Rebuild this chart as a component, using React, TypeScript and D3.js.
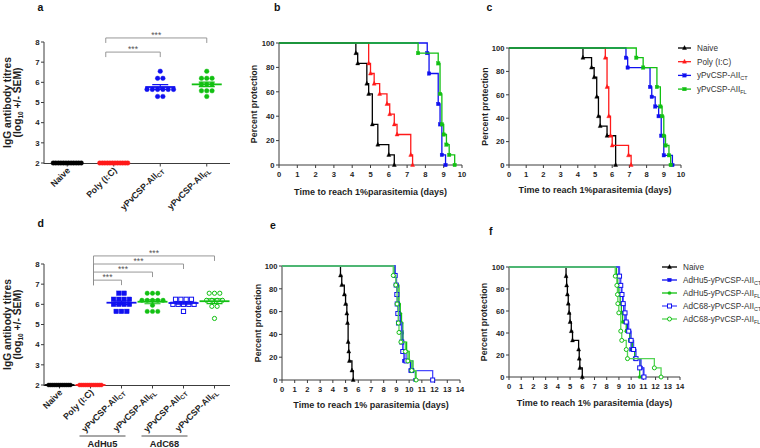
import React from "react";
import * as d3 from "d3";

const FONT = "'Liberation Sans', Arial, Helvetica, sans-serif";
const BLACK = "#000000";
const RED = "#ff1a1a";
const BLUE = "#1010f0";
const GREEN = "#12c012";
const AXIS = "#3c3c3c";
const TXT = "#1e1e1e";
const GRAY = "#8c8c8c";

// ---------- Panel a : IgG titres ----------
const aLabels: [string, string][] = [["Naive", ""], ["Poly (I:C)", ""], ["yPvCSP-AII", "CT"], ["yPvCSP-AII", "FL"]];
const aNaive = [2, 2, 2, 2, 2, 2, 2, 2, 2, 2, 2, 2];
const aPoly = [2, 2, 2, 2, 2, 2, 2, 2, 2, 2, 2, 2];
const aCT = [6.55, 6.2, 6.2, 5.65, 5.65, 5.65, 5.65, 5.65, 5.65, 5.3, 5.3];
const aFL = [6.55, 6.2, 6.2, 6.2, 5.9, 5.9, 5.9, 5.58, 5.58, 5.58, 5.3];
const aBrackets = [{ to: 3, y: 8.2 }, { to: 2, y: 7.5 }];

// ---------- Panel d : IgG titres ----------
const dLabels: [string, string][] = [["Naive", ""], ["Poly (I:C)", ""], ["yPvCSP-AII", "CT"], ["yPvCSP-AII", "FL"], ["yPvCSP-AII", "CT"], ["yPvCSP-AII", "FL"]];
const dNaive = [2, 2, 2, 2, 2, 2, 2, 2, 2, 2, 2, 2];
const dPoly = [2, 2, 2, 2, 2, 2, 2, 2, 2, 2, 2, 2];
const dHu5CT = [6.55, 6.55, 6.25, 6.25, 6.25, 6.25, 6.0, 6.0, 6.0, 6.0, 5.65, 5.65, 5.65];
const dHu5FL = [6.55, 6.55, 6.55, 6.2, 6.2, 6.2, 6.2, 6.2, 5.95, 5.65, 5.65, 5.65];
const dC68CT = [6.25, 6.25, 6.25, 6.25, 6.0, 6.0, 6.0, 6.0, 6.0, 5.65];
const dC68FL = [6.55, 6.55, 6.55, 6.2, 6.2, 6.2, 6.2, 5.9, 5.9, 5.3];
const dBrackets = [{ to: 2, y: 7.2 }, { to: 3, y: 7.6 }, { to: 4, y: 8.0 }, { to: 5, y: 8.4 }];
const dVectorGroups = [{ name: "AdHu5", from: 2, to: 3 }, { name: "AdC68", from: 4, to: 5 }];

const yTicksTitre = [2, 3, 4, 5, 6, 7, 8];

// ---------- Panel b : survival ----------
const bNaiveT = [4.2, 4.3, 4.8, 4.9, 5.1, 5.4, 6.0, 6.3];
const bNaiveS = [91.7, 83.3, 66.7, 58.3, 33.3, 16.7, 8.3, 0];
const bPolyT = [4.9, 5.0, 5.2, 5.5, 5.9, 6.05, 6.3, 6.45, 7.2, 7.3];
const bPolyS = [83.3, 75, 66.7, 58.3, 50, 41.7, 33.3, 25, 8.3, 0];
const bCTT = [8.1, 8.2, 8.7, 8.8, 8.9, 9.1];
const bCTS = [91.7, 75, 50, 33.3, 8.3, 0];
const bFLT = [7.6, 8.7, 8.8, 8.9, 9.0, 9.15, 9.3, 9.6];
const bFLS = [91.7, 83.3, 58.3, 33.3, 25, 16.7, 8.3, 0];

// ---------- Panel c : survival ----------
const cNaiveT = [4.3, 4.8, 4.95, 5.1, 5.2, 5.3, 5.7, 6.2];
const cNaiveS = [91.7, 83.3, 75, 58.3, 41.7, 33.3, 25, 0];
const cPolyT = [5.6, 5.7, 5.8, 5.9, 6.0, 6.95, 7.1];
const cPolyS = [91.7, 66.7, 41.7, 25, 16.7, 8.3, 0];
const cCTT = [6.8, 6.9, 8.2, 8.3, 8.5, 8.7, 8.85, 9.0, 9.5];
const cCTS = [91.7, 83.3, 66.7, 58.3, 50, 41.7, 25, 8.3, 0];
const cFLT = [7.4, 7.8, 8.6, 8.8, 8.9, 9.0, 9.1, 9.3, 9.4];
const cFLS = [91.7, 83.3, 66.7, 50, 41.7, 25, 16.7, 8.3, 0];

// ---------- Panel e : survival ----------
const eNaiveT = [4.6, 4.7, 4.9, 5.0, 5.1, 5.15, 5.2, 5.25, 5.3, 5.5, 5.6];
const eNaiveS = [91.7, 83.3, 75, 66.7, 58.3, 50, 33.3, 25, 16.7, 8.3, 0];
const eHu5CTT = [8.9, 9.0, 9.05, 9.1, 9.2, 9.3, 9.4, 9.5, 9.6, 10.1, 10.5];
const eHu5CTS = [91.7, 83.3, 75, 66.7, 58.3, 50, 41.7, 25, 16.7, 8.3, 0];
const eHu5FLT = [8.85, 9.0, 9.2, 9.3, 9.4, 9.5, 9.8, 10.0, 10.3, 10.5];
const eHu5FLS = [91.7, 83.3, 66.7, 58.3, 50, 33.3, 25, 16.7, 8.3, 0];
const eC68CTT = [8.9, 8.98, 9.03, 9.06, 9.11, 9.16, 9.42, 9.5, 9.76, 10.2, 11.85];
const eC68CTS = [91.7, 83.3, 75, 66.7, 58.3, 50, 33.3, 25, 16.7, 8.3, 0];
const eC68FLT = [8.75, 8.95, 9.05, 9.15, 9.2, 9.35, 9.7, 9.9, 10.2, 10.55];
const eC68FLS = [91.7, 83.3, 66.7, 50, 41.7, 33.3, 25, 16.7, 8.3, 0];

// ---------- Panel f : survival ----------
const fNaiveT = [4.67, 4.72, 4.78, 4.85, 4.92, 5.0, 5.1, 5.2, 5.7, 5.75, 5.8, 6.0];
const fNaiveS = [91.7, 83.3, 75, 66.7, 58.3, 50, 41.7, 33.3, 25, 16.7, 8.3, 0];
const fHu5CTT = [9.0, 9.1, 9.2, 9.3, 9.4, 9.5, 9.7, 9.9, 10.0, 10.3, 10.8, 11.0];
const fHu5CTS = [91.7, 83.3, 75, 66.7, 58.3, 50, 41.7, 33.3, 25, 16.7, 8.3, 0];
const fHu5FLT = [8.8, 8.9, 9.0, 9.1, 9.2, 9.3, 9.6, 9.9, 10.1, 10.3, 10.7];
const fHu5FLS = [91.7, 83.3, 75, 66.7, 58.3, 50, 41.7, 33.3, 25, 16.7, 0];
const fC68CTT = [9.05, 9.15, 9.25, 9.35, 9.5, 9.6, 9.8, 10.0, 10.2, 10.4, 10.7, 11.05];
const fC68CTS = [91.7, 83.3, 75, 66.7, 58.3, 50, 41.7, 33.3, 25, 16.7, 8.3, 0];
const fC68FLT = [8.7, 8.83, 8.88, 8.91, 8.99, 9.15, 9.23, 9.6, 9.7, 11.9, 12.45];
const fC68FLS = [91.7, 83.3, 75, 66.7, 58.3, 41.7, 33.3, 25, 16.7, 8.3, 0];

const pctTicks = [0, 20, 40, 60, 80, 100];
const dayTicks10 = d3.range(0, 11);
const dayTicks14 = d3.range(0, 15);

type Shape = "tri" | "sq" | "circ";

function Marker({ x, y, shape, color, open, size }: { x: number; y: number; shape: Shape; color: string; open?: boolean; size: number }) {
  const fill = open ? "#ffffff" : color;
  const sw = open ? 1 : 0.4;
  if (shape === "tri") {
    const s = size;
    const pts = `${x},${y - s * 0.62} ${x - s / 2},${y + s * 0.38} ${x + s / 2},${y + s * 0.38}`;
    return <polygon points={pts} fill={fill} stroke={color} strokeWidth={sw} />;
  }
  if (shape === "sq") {
    return <rect x={x - size / 2} y={y - size / 2} width={size} height={size} fill={fill} stroke={color} strokeWidth={sw} />;
  }
  return <circle cx={x} cy={y} r={size / 2} fill={fill} stroke={color} strokeWidth={sw} />;
}

function SubText({ main, sub, subSize }: { main: string; sub: string; subSize: number }) {
  return (
    <>
      {main}
      {sub ? <tspan dy={2} fontSize={subSize}>{sub}</tspan> : null}
    </>
  );
}

type SGroup = { values: number[]; color: string; shape: Shape; open?: boolean; size: number };

function TitrePanel(props: {
  x0: number; x1: number; yTop: number; yBot: number; groups: SGroup[]; labels: [string, string][];
  brackets: { to: number; y: number }[]; bracketLeftDx: number; sharedLeft: boolean; rowMax: number; spacing: number;
  vectorGroups?: { name: string; from: number; to: number }[];
}) {
  const { x0, x1, yTop, yBot, groups, labels, brackets, bracketLeftDx, sharedLeft, rowMax, spacing } = props;
  const y = d3.scaleLinear().domain([2, 8]).range([yBot, yTop]);
  const x = d3.scaleBand<number>().domain(d3.range(groups.length)).range([x0, x1]);
  const cx = (i: number) => (x(i) as number) + x.bandwidth() / 2;
  const leftX = cx(1) + bracketLeftDx;
  const lowestBracket = d3.max(brackets, (b) => y(b.y)) as number;
  return (
    <g fontFamily={FONT}>
      {/* y label */}
      <text transform={`translate(10.5,${(yTop + yBot) / 2}) rotate(-90)`} textAnchor="middle" fontSize={10.3} fontWeight="bold" fill={TXT}>IgG antibody titres</text>
      <text transform={`translate(21,${(yTop + yBot) / 2}) rotate(-90)`} textAnchor="middle" fontSize={10.3} fontWeight="bold" fill={TXT}>
        (log<tspan dy={2} fontSize={6.5}>10</tspan><tspan dy={-2}> +/- SEM)</tspan>
      </text>
      {/* axes */}
      <line x1={x0} x2={x0} y1={yTop} y2={yBot} stroke={AXIS} strokeWidth={1} />
      <line x1={x0 - 0.5} x2={x1} y1={yBot + 0.5} y2={yBot + 0.5} stroke={AXIS} strokeWidth={1} />
      {yTicksTitre.map((t) => (
        <g key={t}>
          <line x1={x0 - 3} x2={x0} y1={y(t)} y2={y(t)} stroke={AXIS} />
          <text x={x0 - 4.5} y={y(t) + 2.8} textAnchor="end" fontSize={7.8} fontWeight="bold" fill={TXT}>{t}</text>
        </g>
      ))}
      {groups.map((g, i) => (
        <line key={i} x1={cx(i)} x2={cx(i)} y1={yBot + 0.5} y2={yBot + 3.5} stroke={AXIS} />
      ))}
      {labels.map((l, i) => (
        <text key={i} transform={`translate(${cx(i) + 3.5},${yBot + 8}) rotate(-45)`} textAnchor="end" fontSize={8.8} fontWeight="bold" fill={TXT}>
          <SubText main={l[0]} sub={l[1]} subSize={6.2} />
        </text>
      ))}
      {/* brackets */}
      {brackets.map((b, k) => {
        const by = y(b.y);
        const rx = cx(b.to);
        const lb = sharedLeft ? lowestBracket + 5 : by + 5;
        return (
          <g key={k} stroke={GRAY} strokeWidth={0.9} fill="none">
            <path d={`M${leftX},${lb} V${by} H${rx} V${by + 5}`} />
            <text x={(leftX + rx) / 2} y={by} textAnchor="middle" fontSize={8.5} fill="#555" stroke="none">***</text>
          </g>
        );
      })}
      {/* points */}
      {groups.map((g, i) => {
        const rows = d3.group(g.values, (v) => v);
        const pts: { px: number; py: number }[] = [];
        rows.forEach((vals, v) => {
          const k = vals.length;
          const sp = k > 1 ? Math.min(spacing, rowMax / (k - 1)) : 0;
          vals.forEach((_, j) => pts.push({ px: cx(i) + (j - (k - 1) / 2) * sp, py: y(v) }));
        });
        const m = d3.mean(g.values) as number;
        const sem = (d3.deviation(g.values) || 0) / Math.sqrt(g.values.length);
        return (
          <g key={i}>
            {pts.map((p, j) => (
              <Marker key={j} x={p.px} y={p.py} shape={g.shape} color={g.color} open={g.open} size={g.size} />
            ))}
            <line x1={cx(i) - 15} x2={cx(i) + 15} y1={y(m)} y2={y(m)} stroke={g.color} strokeWidth={1.8} />
            <path d={`M${cx(i) - 8},${y(m + sem)} H${cx(i) + 8} M${cx(i)},${y(m + sem)} V${y(m - sem)} M${cx(i) - 8},${y(m - sem)} H${cx(i) + 8}`} stroke={g.color} strokeWidth={1.1} fill="none" />
          </g>
        );
      })}
      {props.vectorGroups
        ? props.vectorGroups.map((vg, k) => {
            const lx1 = cx(vg.from) - 42;
            const lx2 = cx(vg.to) - 27;
            return (
              <g key={k}>
                <line x1={lx1} x2={lx2} y1={436} y2={436} stroke={AXIS} strokeWidth={0.9} />
                <text x={(lx1 + lx2) / 2} y={446.5} textAnchor="middle" fontSize={9.3} fontWeight="bold" fill={TXT}>{vg.name}</text>
              </g>
            );
          })
        : null}
    </g>
  );
}

type Curve = { t: number[]; s: number[]; color: string; lineColor?: string; shape: Shape; open?: boolean; size: number; name: [string, string] };

function SurvivalPanel(props: {
  x0: number; x1: number; yTop: number; yBot: number; xMax: number; xTicks: number[]; curves: Curve[];
  ylabX: number; titleY: number; title: string; legend?: { lx: number; ly: number; dy: number; len: number };
}) {
  const { x0, x1, yTop, yBot, xMax, xTicks, curves, ylabX, titleY, legend, title } = props;
  const x = d3.scaleLinear().domain([0, xMax]).range([x0, x1]);
  const y = d3.scaleLinear().domain([0, 100]).range([yBot, yTop]);
  const line = d3.line<[number, number]>().x((d) => x(d[0])).y((d) => y(d[1])).curve(d3.curveStepAfter);
  return (
    <g fontFamily={FONT}>
      <text transform={`translate(${ylabX},${(yTop + yBot) / 2}) rotate(-90)`} textAnchor="middle" fontSize={8.9} fontWeight="bold" fill={TXT}>Percent protection</text>
      <text x={(x0 + x1) / 2} y={titleY} textAnchor="middle" fontSize={9} fontWeight="bold" fill={TXT}>{title}</text>
      <line x1={x0} x2={x0} y1={yTop} y2={yBot} stroke={AXIS} />
      <line x1={x0} x2={x1} y1={yBot} y2={yBot} stroke={AXIS} />
      {pctTicks.map((t) => (
        <g key={t}>
          <line x1={x0 - 3} x2={x0} y1={y(t)} y2={y(t)} stroke={AXIS} />
          <text x={x0 - 4.5} y={y(t) + 2.8} textAnchor="end" fontSize={7.6} fontWeight="bold" fill={TXT}>{t}</text>
        </g>
      ))}
      {xTicks.map((t) => (
        <g key={t}>
          <line x1={x(t)} x2={x(t)} y1={yBot} y2={yBot + 3} stroke={AXIS} />
          <text x={x(t)} y={yBot + 11.5} textAnchor="middle" fontSize={7.6} fontWeight="bold" fill={TXT}>{t}</text>
        </g>
      ))}
      {curves.map((c, i) => {
        const pts: [number, number][] = [[0, 100], ...c.t.map((t, j) => [t, c.s[j]] as [number, number])];
        return (
          <g key={i}>
            <path d={line(pts) as string} fill="none" stroke={c.lineColor || c.color} strokeWidth={1.3} />
            {c.t.map((t, j) => (
              <Marker key={j} x={x(t)} y={y(c.s[j])} shape={c.shape} color={c.color} open={c.open} size={c.size} />
            ))}
          </g>
        );
      })}
      {legend
        ? curves.map((c, i) => {
            const ly = legend.ly + i * legend.dy;
            return (
              <g key={"l" + i}>
                <line x1={legend.lx} x2={legend.lx + legend.len} y1={ly} y2={ly} stroke={c.lineColor || c.color} strokeWidth={1.3} />
                <Marker x={legend.lx + legend.len / 2} y={ly} shape={c.shape} color={c.color} open={c.open} size={c.size} />
                <text x={legend.lx + legend.len + 6} y={ly + 3} fontSize={8.2} fill="#333">
                  <SubText main={c.name[0]} sub={c.name[1]} subSize={5.5} />
                </text>
              </g>
            );
          })
        : null}
    </g>
  );
}

export default function App() {
  const aGroups: SGroup[] = [
    { values: aNaive, color: BLACK, shape: "circ", size: 4.6 },
    { values: aPoly, color: RED, shape: "circ", size: 4.6 },
    { values: aCT, color: BLUE, shape: "circ", size: 4.6 },
    { values: aFL, color: GREEN, shape: "circ", size: 4.6 },
  ];
  const dGroups: SGroup[] = [
    { values: dNaive, color: BLACK, shape: "circ", size: 4 },
    { values: dPoly, color: RED, shape: "circ", size: 4 },
    { values: dHu5CT, color: BLUE, shape: "sq", size: 4.6 },
    { values: dHu5FL, color: GREEN, shape: "circ", size: 4.4 },
    { values: dC68CT, color: BLUE, shape: "sq", open: true, size: 4.2 },
    { values: dC68FL, color: GREEN, shape: "circ", open: true, size: 4.2 },
  ];
  const bCurves: Curve[] = [
    { t: bNaiveT, s: bNaiveS, color: BLACK, shape: "tri", size: 4, name: ["Naive", ""] },
    { t: bPolyT, s: bPolyS, color: RED, shape: "tri", size: 4, name: ["Poly (I:C)", ""] },
    { t: bCTT, s: bCTS, color: BLUE, shape: "sq", size: 3.4, name: ["yPvCSP-AII", "CT"] },
    { t: bFLT, s: bFLS, color: GREEN, shape: "sq", size: 3.4, name: ["yPvCSP-AII", "FL"] },
  ];
  const cCurves: Curve[] = [
    { t: cNaiveT, s: cNaiveS, color: BLACK, shape: "tri", size: 4, name: ["Naive", ""] },
    { t: cPolyT, s: cPolyS, color: RED, shape: "tri", size: 4, name: ["Poly (I:C)", ""] },
    { t: cCTT, s: cCTS, color: BLUE, shape: "sq", size: 3.4, name: ["yPvCSP-AII", "CT"] },
    { t: cFLT, s: cFLS, color: GREEN, shape: "sq", size: 3.4, name: ["yPvCSP-AII", "FL"] },
  ];
  const eCurves: Curve[] = [
    { t: eNaiveT, s: eNaiveS, color: BLACK, shape: "tri", size: 4, name: ["Naive", ""] },
    { t: eHu5CTT, s: eHu5CTS, color: BLUE, shape: "sq", size: 3.4, name: ["AdHu5-yPvCSP-AII", "CT"] },
    { t: eHu5FLT, s: eHu5FLS, color: GREEN, shape: "circ", size: 3.2, name: ["AdHu5-yPvCSP-AII", "FL"] },
    { t: eC68CTT, s: eC68CTS, color: BLUE, lineColor: "#4a4aff", shape: "sq", open: true, size: 4, name: ["AdC68-yPvCSP-AII", "CT"] },
    { t: eC68FLT, s: eC68FLS, color: GREEN, lineColor: "#55d455", shape: "circ", open: true, size: 4, name: ["AdC68-yPvCSP-AII", "FL"] },
  ];
  const fCurves: Curve[] = [
    { t: fNaiveT, s: fNaiveS, color: BLACK, shape: "tri", size: 4, name: ["Naive", ""] },
    { t: fHu5CTT, s: fHu5CTS, color: BLUE, shape: "sq", size: 3.4, name: ["AdHu5-yPvCSP-AII", "CT"] },
    { t: fHu5FLT, s: fHu5FLS, color: GREEN, shape: "circ", size: 3.2, name: ["AdHu5-yPvCSP-AII", "FL"] },
    { t: fC68CTT, s: fC68CTS, color: BLUE, lineColor: "#4a4aff", shape: "sq", open: true, size: 4, name: ["AdC68-yPvCSP-AII", "CT"] },
    { t: fC68FLT, s: fC68FLS, color: GREEN, lineColor: "#55d455", shape: "circ", open: true, size: 4, name: ["AdC68-yPvCSP-AII", "FL"] },
  ];
  const letter = (s: string, lx: number, ly: number) => (
    <text x={lx} y={ly} fontFamily={FONT} fontSize={10.5} fontWeight="bold" fill="#111">{s}</text>
  );
  return (
    <div style={{ position: "fixed", left: 0, top: 0 }}>
      <svg width={760} height={448} style={{ display: "block", background: "#ffffff" }}>
        {letter("a", 37.5, 10.5)}
        {letter("b", 274, 10.5)}
        {letter("c", 486.5, 10.5)}
        {letter("d", 37.5, 227)}
        {letter("e", 270, 229)}
        {letter("f", 489, 235)}
        <TitrePanel x0={44} x1={230} yTop={42} yBot={163} groups={aGroups} labels={aLabels} brackets={aBrackets}
          bracketLeftDx={-8} sharedLeft={false} rowMax={28} spacing={5.3} />
        <TitrePanel x0={44} x1={230} yTop={264} yBot={385} groups={dGroups} labels={dLabels} brackets={dBrackets}
          bracketLeftDx={3} sharedLeft={true} rowMax={22} spacing={5.3} vectorGroups={dVectorGroups} />
        <SurvivalPanel x0={279} x1={462} yTop={43} yBot={165} xMax={10} xTicks={dayTicks10} curves={bCurves} ylabX={256.5} titleY={195}
          title="Time to reach 1%parasitemia (days)" />
        <SurvivalPanel x0={509} x1={681} yTop={48} yBot={165} xMax={10} xTicks={dayTicks10} curves={cCurves} ylabX={487.5} titleY={193}
          title="Time to reach 1%parasitemia (days)" legend={{ lx: 678, ly: 48, dy: 13.7, len: 13 }} />
        <SurvivalPanel x0={282} x1={460} yTop={266} yBot={380} xMax={14} xTicks={dayTicks14} curves={eCurves} ylabX={260.5} titleY={408}
          title="Time to reach 1% parasitemia (days)" />
        <SurvivalPanel x0={509} x1={680} yTop={267} yBot={377} xMax={14} xTicks={dayTicks14} curves={fCurves} ylabX={486.5} titleY={406}
          title="Time to reach 1% parasitemia (days)" legend={{ lx: 662, ly: 267, dy: 13, len: 15 }} />
      </svg>
    </div>
  );
}
